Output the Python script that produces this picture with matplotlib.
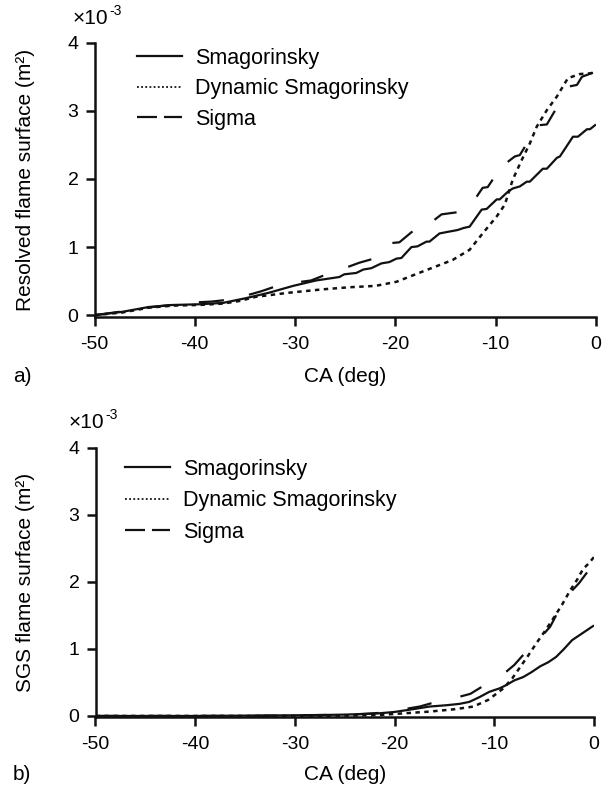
import numpy as np
import matplotlib
matplotlib.use('Agg')
import matplotlib.pyplot as plt
from matplotlib.lines import Line2D

plt.rcParams['font.family'] = ['Liberation Sans', 'DejaVu Sans']
plt.rcParams['lines.scale_dashes'] = False

nan = np.nan

# ---------------- data ----------------
xticks = [-50, -40, -30, -20, -10, 0]
xticklabels = ['-50', '-40', '-30', '-20', '-10', '0']
yticks = [0, 1, 2, 3, 4]
series_labels = ['Smagorinsky', 'Dynamic Smagorinsky', 'Sigma']

# panel a) resolved flame surface (x1e-3 m^2)
ca_smag_a = [-50.0, -47.2, -44.6, -42.2, -39.6, -37.2, -34.9, -32.6, -30.2, -27.9,
             -25.6, -25.1, -23.9, -23.2, -22.4, -21.4, -20.6, -19.9, -19.4, -18.4,
             -17.8, -16.9, -16.6, -15.6, -14.9, -13.8, -13.2, -12.6, -11.4, -10.9,
             -9.9, -9.6, -8.8, -8.3, -7.6, -6.9, -6.6, -5.3, -4.9, -3.9,
             -3.6, -2.3, -1.8, -0.9, -0.6, 0.0]
smag_a = [0.00, 0.05, 0.12, 0.15, 0.16, 0.18, 0.25, 0.33, 0.43, 0.51,
          0.56, 0.60, 0.62, 0.67, 0.69, 0.76, 0.78, 0.83, 0.84, 1.00,
          1.01, 1.08, 1.08, 1.20, 1.22, 1.25, 1.28, 1.30, 1.55, 1.56,
          1.70, 1.70, 1.81, 1.86, 1.89, 1.96, 1.96, 2.15, 2.15, 2.31,
          2.33, 2.62, 2.62, 2.73, 2.73, 2.80]

ca_dyn_a = [-50.0, -47.2, -44.6, -42.2, -39.6, -37.2, -35.5, -33.9, -30.6, -27.2,
            -24.6, -22.0, -19.9, -17.3, -14.3, -12.6, -11.3, -9.9, -9.1, -8.3,
            -7.4, -6.6, -5.9, -4.9, -3.9, -2.8, -1.6, -0.6, 0.0]
dyn_a = [0.00, 0.04, 0.11, 0.14, 0.15, 0.17, 0.21, 0.27, 0.33, 0.38,
         0.41, 0.43, 0.49, 0.64, 0.81, 0.96, 1.20, 1.45, 1.62, 1.99,
         2.28, 2.52, 2.77, 3.01, 3.21, 3.48, 3.54, 3.55, 3.57]

ca_sig_a = [-50.0, -47.5, nan,
            -44.8, -42.4, nan,
            -39.6, -38.3, -37.1, nan,
            -34.6, -33.4, -32.2, nan,
            -29.4, -28.4, -27.2, nan,
            -24.7, -23.6, -22.4, nan,
            -20.3, -19.6, -18.3, nan,
            -16.1, -15.4, -13.9, nan,
            -11.9, -11.3, -10.8, -10.3, nan,
            -8.8, -8.1, -7.6, -7.1, nan,
            -5.6, -4.9, -4.1, nan,
            -2.6, -1.9, -1.4, -0.3]
sig_a = [0.00, 0.05, nan,
         0.11, 0.15, nan,
         0.19, 0.20, 0.22, nan,
         0.30, 0.35, 0.41, nan,
         0.49, 0.51, 0.58, nan,
         0.71, 0.77, 0.82, nan,
         1.06, 1.07, 1.23, nan,
         1.40, 1.48, 1.51, nan,
         1.74, 1.87, 1.88, 1.99, nan,
         2.25, 2.33, 2.35, 2.47, nan,
         2.79, 2.80, 3.00, nan,
         3.36, 3.38, 3.50, 3.56]

# panel b) SGS flame surface (x1e-3 m^2)
ca_smag_b = [-50, -45, -40, -35, -30, -27, -25, -23, -21.5, -20, -18.2, -16.5,
             -14.8, -13.5, -12.5, -11.5, -10.5, -9.5, -8.8, -8.0, -7.1, -6.3,
             -5.4, -4.6, -3.8, -3.0, -2.2, -1.1, 0]
smag_b = [0, 0, 0, 0.005, 0.01, 0.015, 0.02, 0.03, 0.04, 0.06, 0.10, 0.14,
          0.16, 0.18, 0.21, 0.28, 0.36, 0.41, 0.46, 0.53, 0.58, 0.65,
          0.74, 0.80, 0.88, 1.00, 1.13, 1.24, 1.35]

ca_dyn_b = [-50, -40, -30, -25, -21.5, -19, -16.5, -14, -12.1, -10.6, -9.1, -8.2,
            -7.4, -6.6, -5.8, -4.9, -4.1, -3.2, -2.4, -1.7, -1.1, -0.5, 0]
dyn_b = [0, 0, 0, 0.005, 0.015, 0.04, 0.065, 0.10, 0.14, 0.24, 0.41, 0.56,
         0.73, 0.90, 1.08, 1.27, 1.45, 1.66, 1.87, 2.03, 2.19, 2.28, 2.37]

ca_sig_b = [-50.0, -47.6, nan,
            -44.7, -42.4, nan,
            -39.5, -37.2, nan,
            -34.3, -32.0, nan,
            -29.1, -26.8, nan,
            -23.9, -22.5, -21.6, nan,
            -18.7, -17.5, -16.3, nan,
            -13.4, -12.4, -11.3, nan,
            -8.8, -8.0, -7.1, nan,
            -5.0, -4.4, -3.8, nan,
            -2.2, -1.5, -0.7]
sig_b = [0.0, 0.0, nan,
         0.0, 0.0, nan,
         0.0, 0.0, nan,
         0.0, 0.005, nan,
         0.01, 0.015, nan,
         0.025, 0.035, 0.045, nan,
         0.11, 0.14, 0.19, nan,
         0.29, 0.33, 0.43, nan,
         0.66, 0.76, 0.91, nan,
         1.23, 1.33, 1.50, nan,
         1.87, 1.98, 2.14]

# ---------------- figure ----------------
W, H = 611, 789
fig = plt.figure(figsize=(W / 100, H / 100), dpi=100)

col = '#111111'
LW = 1.6
DOT = (3.2, 3.2)

def px_axes(left, right, top, bottom):
    return [left / W, 1 - bottom / H, (right - left) / W, (bottom - top) / H]

ax1 = fig.add_axes(px_axes(94.5, 596, 42.7, 317.3))
ax2 = fig.add_axes(px_axes(95.5, 594, 447.7, 717.3))

panels = [
    (ax1, ca_smag_a, smag_a, ca_dyn_a, dyn_a, ca_sig_a, sig_a,
     'Resolved flame surface (m\u00b2)', -0.031, 'a)', 376.7, (137, 47.6), 0.44,
     (73, 18), (109, 11)),
    (ax2, ca_smag_b, smag_b, ca_dyn_b, dyn_b, ca_sig_b, sig_b,
     'SGS flame surface (m\u00b2)', -0.02, 'b)', 774, (125, 458.6), 0.49,
     (69, 423), (105, 415)),
]

for (ax, cs, s, cd, d, cg, g, ylab, ylo, tag, tagy, legpos, lsp,
     mpos, epos) in panels:
    ax.plot(cs, s, color=col, lw=LW, solid_capstyle='butt')
    ax.plot(cd, d, color=col, lw=1.8, dashes=DOT)
    ax.plot(np.array(cg, dtype=float), np.array(g, dtype=float),
            color=col, lw=LW, solid_capstyle='butt')

    ax.set_xlim(-50, 0)
    ax.set_ylim(ylo, 4)
    ax.set_xticks(xticks)
    ax.set_xticklabels(xticklabels)
    ax.set_yticks(yticks)
    for side in ('top', 'right'):
        ax.spines[side].set_visible(False)
    for side in ('left', 'bottom'):
        ax.spines[side].set_linewidth(1.8)
        ax.spines[side].set_color(col)
    ax.tick_params(direction='out', length=6.5, width=1.8, labelsize=14,
                   color=col)
    ax.tick_params(axis='x', pad=7)
    ax.tick_params(axis='y', pad=5)

    ax.set_xlabel('CA (deg)', fontsize=15, va='center')
    bb = ax.get_position()
    axh_px = bb.height * H
    axbottom_px = (1 - bb.y0) * H
    ax.xaxis.set_label_coords(0.5, (axbottom_px - tagy) / axh_px)
    ax.set_ylabel(ylab, fontsize=15, va='center')
    ax.yaxis.set_label_coords((26 - bb.x0 * W) / (bb.width * W), 0.5)

    fig.text(13 / W, 1 - tagy / H, tag, fontsize=15, va='center', ha='left')

    handles = [Line2D([], [], color=col, lw=1.6),
               Line2D([], [], color=col, lw=1.3, dashes=(1.3, 1.7)),
               Line2D([], [], color=col, lw=1.6, dashes=(14.4, 5.0))]
    ax.legend(handles, series_labels, loc='upper left',
              bbox_to_anchor=(legpos[0] / W, 1 - legpos[1] / H),
              bbox_transform=fig.transFigure, frameon=False, fontsize=15.5,
              handlelength=2.1, handletextpad=0.6, labelspacing=lsp,
              borderpad=0, borderaxespad=0)

    # x10^-3 multiplier
    fig.text(mpos[0] / W, 1 - mpos[1] / H, '\u00d710', fontsize=15,
             va='center', ha='left')
    fig.text(epos[0] / W, 1 - epos[1] / H, '-3', fontsize=10,
             va='center', ha='left')

fig.savefig('out.png', dpi=100)
